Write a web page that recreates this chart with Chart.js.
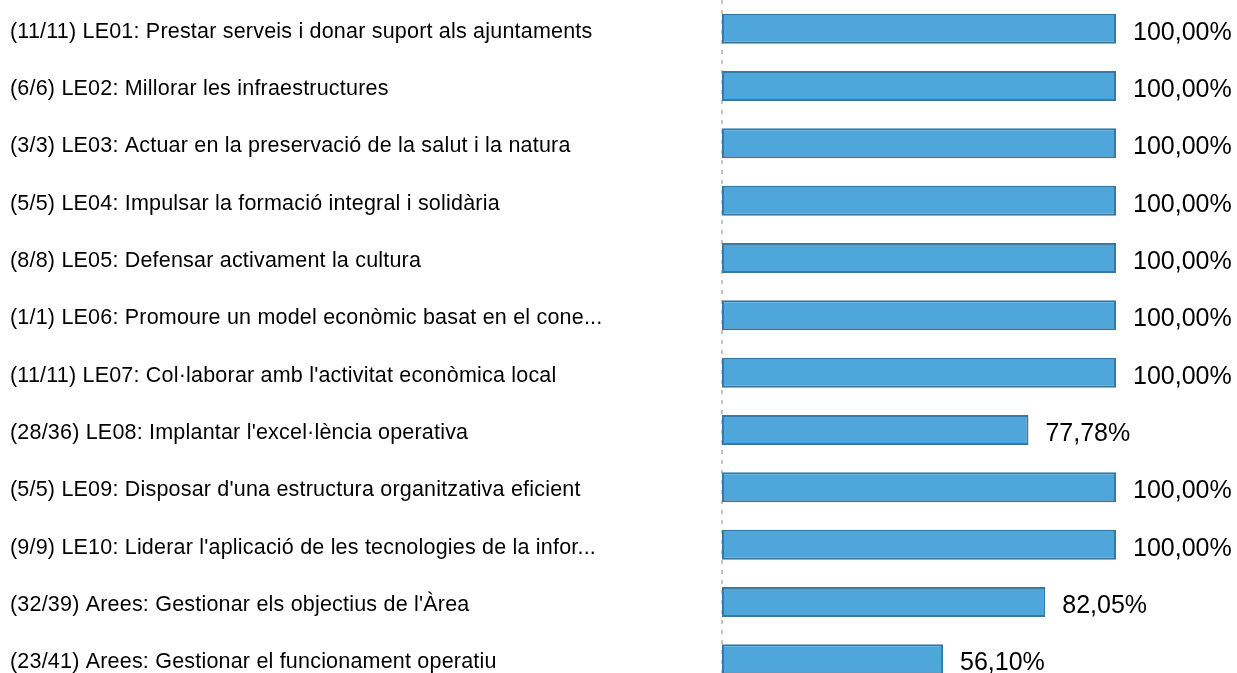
<!DOCTYPE html>
<html>
<head>
<meta charset="utf-8">
<script src="https://cdn.jsdelivr.net/npm/chart.js@4/dist/chart.umd.min.js"></script>
<style>
  html, body { margin: 0; padding: 0; background: #fff; overflow: hidden; }
  #wrap { width: 1237px; height: 673px; overflow: hidden; }
</style>
</head>
<body>
<div id="wrap">
  <canvas id="lineasChart" width="1237" height="688"></canvas>
</div>
<script>
// línies estratègiques: accions fetes / totals
const names = [
    'LE01: Prestar serveis i donar suport als ajuntaments',
    'LE02: Millorar les infraestructures',
    'LE03: Actuar en la preservació de la salut i la natura',
    'LE04: Impulsar la formació integral i solidària',
    'LE05: Defensar activament la cultura',
    'LE06: Promoure un model econòmic basat en el cone...',
    "LE07: Col·laborar amb l'activitat econòmica local",
    "LE08: Implantar l'excel·lència operativa",
    "LE09: Disposar d'una estructura organitzativa eficient",
    "LE10: Liderar l'aplicació de les tecnologies de la infor...",
    "Arees: Gestionar els objectius de l'Àrea",
    'Arees: Gestionar el funcionament operatiu'
]
const done = [11, 6, 3, 5, 8, 1, 11, 28, 5, 9, 32, 23]
const total = [11, 6, 3, 5, 8, 1, 11, 36, 5, 9, 39, 41]
const percent = [100, 100, 100, 100, 100, 100, 100, 77.78, 100, 100, 82.05, 56.10]

const labels = names.map((n, i) => `(${done[i]}/${total[i]}) ${n}`)
const fmt = v => v.toFixed(2).replace('.', ',') + '%'

// línia discontínua a l'eix del zero
const zeroLine = {
    id: 'zeroLine',
    beforeDatasetsDraw(chart) {
        const ctx = chart.ctx
        const x = Math.round(chart.scales.x.getPixelForValue(0))
        ctx.save()
        ctx.strokeStyle = '#c4c4c4'
        ctx.lineWidth = 2
        ctx.setLineDash([4, 6])
        ctx.beginPath()
        ctx.moveTo(x, 0)
        ctx.lineTo(x, chart.height)
        ctx.stroke()
        ctx.restore()
    }
}

// text a l'esquerra i percentatges al final de cada barra
const rowText = {
    id: 'rowText',
    afterDatasetsDraw(chart) {
        const ctx = chart.ctx
        const meta = chart.getDatasetMeta(0)
        ctx.save()
        ctx.fillStyle = '#000'
        ctx.textBaseline = 'middle'
        ctx.textAlign = 'left'
        meta.data.forEach((bar, i) => {
            ctx.font = '21.5px "Liberation Sans", Arial, sans-serif'
            ctx.letterSpacing = '0.2px'
            ctx.fillText(labels[i], 10, bar.y + 3)
            ctx.font = '25px "Liberation Sans", Arial, sans-serif'
            ctx.letterSpacing = '0px'
            ctx.fillText(fmt(percent[i]), bar.x + 17, bar.y + 4)
        })
        ctx.restore()
    }
}

const ctx = document.getElementById('lineasChart').getContext('2d')
const chart = new Chart(ctx, {
    type: 'bar',
    data: {
        labels: labels,
        datasets: [{
            data: percent,
            backgroundColor: '#4fa6db',
            borderColor: '#3a78a4',
            borderWidth: 2,
            borderSkipped: false,
            categoryPercentage: 1,
            barPercentage: 0.523
        }]
    },
    options: {
        indexAxis: 'y',
        responsive: false,
        animation: false,
        layout: { padding: { left: 722, right: 121, top: 0, bottom: 0 } },
        plugins: {
            legend: { display: false },
            tooltip: { enabled: false }
        },
        scales: {
            x: { min: 0, max: 100, display: false },
            y: { display: false }
        }
    },
    plugins: [zeroLine, rowText]
})
</script>
</body>
</html>
